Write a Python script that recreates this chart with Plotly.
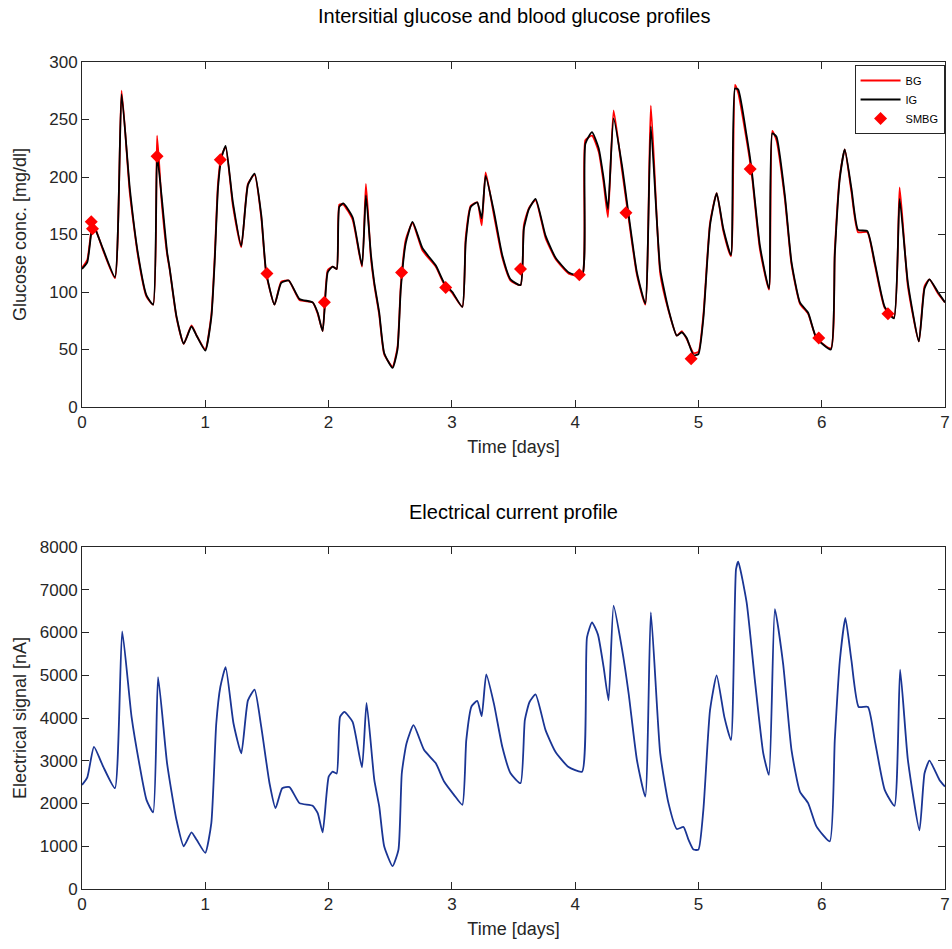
import plotly.graph_objects as go

# ---------------- data ----------------
t_glu = [0, 0.043, 0.086, 0.11, 0.172, 0.267, 0.321, 0.388, 0.456, 0.523, 0.577, 0.609, 0.645, 0.690,
         0.712, 0.766, 0.825, 0.888, 0.93, 1.0, 1.049, 1.076, 1.103, 1.130, 1.165, 1.224, 1.292, 1.346,
         1.400, 1.454, 1.494, 1.561, 1.616, 1.677, 1.764, 1.871, 1.912, 1.952, 1.993, 2.033, 2.066, 2.087,
         2.12, 2.195, 2.271, 2.303, 2.344, 2.371, 2.411, 2.451, 2.519, 2.559, 2.586, 2.627, 2.681, 2.762,
         2.870, 2.937, 3.004, 3.085, 3.112, 3.153, 3.206, 3.242, 3.274, 3.341, 3.409, 3.476, 3.557, 3.584,
         3.625, 3.679, 3.760, 3.840, 3.948, 4.056, 4.083, 4.137, 4.191, 4.231, 4.266, 4.312, 4.380, 4.434,
         4.501, 4.569, 4.614, 4.690, 4.757, 4.825, 4.865, 4.905, 4.960, 5.000, 5.040, 5.094, 5.148, 5.202,
         5.264, 5.297, 5.323, 5.391, 5.431, 5.499, 5.572, 5.599, 5.633, 5.701, 5.755, 5.823, 5.890, 5.957,
         6.074, 6.106, 6.147, 6.187, 6.241, 6.295, 6.370, 6.430, 6.511, 6.586, 6.632, 6.699, 6.788, 6.834,
         6.874, 6.942, 7.0]

ig = [120, 126, 157, 154, 137, 113, 272, 190, 132, 97, 89, 219, 184, 135,
      120, 79, 55, 70, 62, 49, 78, 126, 190, 216, 227, 178, 140, 193,
      203, 167, 117, 89, 108, 110, 94, 91, 82, 66, 117, 122, 120, 174,
      177, 165, 123, 184, 132, 108, 82, 47, 34, 50, 103, 143, 161, 138,
      123, 108, 100, 87, 143, 174, 178, 164, 201, 170, 132, 111, 106, 155,
      172, 181, 149, 130, 117, 114, 229, 239, 225, 199, 172, 251, 210, 167,
      117, 90, 244, 120, 85, 62, 65, 60, 45, 46, 77, 158, 186, 155,
      132, 277, 276, 236, 207, 140, 103, 238, 235, 184, 126, 91, 82, 60,
      50, 132, 199, 224, 190, 154, 153, 126, 87, 77, 181, 108, 57, 103,
      111, 100, 91]

bg = [121, 128, 160, 155, 136, 112, 275, 186, 130, 96, 89, 236, 180, 133,
      119, 78, 55, 71, 62, 50, 80, 130, 194, 218, 226, 175, 139, 194,
      202, 165, 116, 89, 109, 110, 93, 91, 81, 66, 119, 122, 120, 176,
      176, 163, 122, 194, 129, 106, 80, 46, 35, 52, 106, 146, 160, 136,
      122, 107, 99, 87, 147, 175, 178, 158, 204, 167, 130, 110, 106, 158,
      173, 180, 147, 129, 116, 114, 232, 236, 222, 195, 165, 258, 206, 164,
      115, 89, 262, 116, 84, 62, 66, 59, 47, 48, 80, 160, 186, 153,
      131, 280, 273, 232, 204, 137, 102, 240, 232, 181, 124, 90, 81, 60,
      51, 136, 201, 224, 187, 152, 152, 124, 86, 78, 191, 105, 57, 105,
      111, 99, 91]

t_smbg = [0.075, 0.085, 0.609, 1.122, 1.500, 1.966, 2.592, 2.950, 3.557, 4.034, 4.412,
          4.941, 5.420, 5.976, 6.537]
smbg = [161, 155, 218, 215, 116, 91, 117, 104, 120, 115, 169,
        42, 207, 60, 81]

t_el = [0, 0.043, 0.097, 0.172, 0.267, 0.326, 0.402, 0.469, 0.523, 0.577, 0.617, 0.690, 0.766,
        0.825, 0.888, 0.93, 1.0, 1.049, 1.089, 1.122, 1.165, 1.229, 1.292, 1.346, 1.400, 1.454,
        1.521, 1.570, 1.624, 1.683, 1.764, 1.871, 1.912, 1.952, 2.001, 2.033, 2.066, 2.093, 2.128,
        2.195, 2.271, 2.308, 2.371, 2.411, 2.451, 2.519, 2.567, 2.594, 2.632, 2.689, 2.775, 2.870,
        2.937, 3.017, 3.085, 3.117, 3.16, 3.206, 3.242, 3.279, 3.341, 3.409, 3.476, 3.557, 3.592,
        3.630, 3.679, 3.760, 3.840, 3.943, 4.056, 4.096, 4.137, 4.185, 4.231, 4.271, 4.312, 4.380,
        4.434, 4.501, 4.569, 4.614, 4.690, 4.757, 4.825, 4.879, 4.919, 4.960, 5.0, 5.040, 5.094,
        5.148, 5.21, 5.264, 5.305, 5.323, 5.391, 5.458, 5.526, 5.572, 5.620, 5.687, 5.755, 5.823,
        5.890, 5.957, 6.065, 6.106, 6.147, 6.192, 6.241, 6.30, 6.375, 6.43, 6.511, 6.59, 6.636,
        6.699, 6.793, 6.834, 6.874, 6.955, 7.0]
el = [2435, 2614, 3327, 2862, 2358, 6028, 4026, 2862, 2086, 1791, 4957, 2940, 1620,
      1000, 1325, 1150, 845, 1543, 3872, 4725, 5190, 3872, 3173, 4414, 4663, 3793,
      2475, 1893, 2358, 2382, 2009, 1946, 1776, 1325, 2629, 2745, 2700, 4026, 4142,
      3910, 2847, 4352, 2552, 1930, 1000, 534, 922, 2708, 3406, 3832, 3250, 2940,
      2513, 2203, 1970, 3483, 4275, 4399, 4042, 5020, 4337, 3327, 2708, 2475, 3949,
      4375, 4554, 3716, 3211, 2862, 2745, 5888, 6238, 5951, 5190, 4414, 6626, 5618,
      4570, 3018, 2163, 6470, 3173, 2009, 1404, 1450, 1155, 922, 922, 1853, 4182,
      4997, 4026, 3483, 7481, 7658, 6703, 4880, 3173, 2668, 6549, 5269, 3250, 2280,
      2009, 1465, 1115, 3483, 5346, 6340, 5346, 4259, 4259, 3483, 2319, 1946, 5129,
      3018, 1372, 2708, 3002, 2552, 2396]

x_ticks = [0, 1, 2, 3, 4, 5, 6, 7]

# ---------------- figure ----------------
FONT = "Liberation Sans, Arial, Helvetica, sans-serif"
AX = "#262626"
TICK_SIZE = 17
LABEL_SIZE = 18
TITLE_SIZE = 20

fig = go.Figure()
fig.add_trace(go.Scatter(x=t_glu, y=bg, mode="lines", name="BG",
                         line=dict(color="#ff0000", width=1.8, shape="spline", smoothing=0.5),
                         xaxis="x", yaxis="y"))
fig.add_trace(go.Scatter(x=t_glu, y=ig, mode="lines", name="IG",
                         line=dict(color="#000000", width=1.8, shape="spline", smoothing=0.5),
                         xaxis="x", yaxis="y"))
fig.add_trace(go.Scatter(x=t_smbg, y=smbg, mode="markers", name="SMBG",
                         marker=dict(symbol="diamond", color="#ff0000", size=10, line=dict(width=0)),
                         xaxis="x", yaxis="y"))
fig.add_trace(go.Scatter(x=t_el, y=el, mode="lines", name="Electrical signal", showlegend=False,
                         line=dict(color="#1a3594", width=1.8, shape="spline", smoothing=0.5),
                         xaxis="x2", yaxis="y2"))

axis_common = dict(showline=True, linecolor=AX, linewidth=1, mirror="ticks", ticks="inside",
                   ticklen=7, tickcolor=AX, showgrid=False, zeroline=False,
                   ticklabeloverflow="allow", automargin=False,
                   tickfont=dict(family=FONT, size=TICK_SIZE, color=AX))
label_font = dict(family=FONT, size=LABEL_SIZE, color=AX)

fig.update_layout(
    width=952, height=949,
    margin=dict(l=82, r=7, t=62, b=60),
    paper_bgcolor="white", plot_bgcolor="white",
    font=dict(family=FONT, color=AX),
    xaxis=dict(domain=[0, 1], range=[0, 7], tickvals=x_ticks, anchor="y",
               title=dict(text="Time [days]", font=label_font, standoff=8),
               **axis_common),
    yaxis=dict(domain=[0.5828, 1], range=[0, 300], dtick=50, anchor="x",
               title=dict(text="Glucose conc. [mg/dl]", font=label_font, standoff=17),
               **axis_common),
    xaxis2=dict(domain=[0, 1], range=[0, 7], tickvals=x_ticks, anchor="y2",
                title=dict(text="Time [days]", font=label_font, standoff=8),
                **axis_common),
    yaxis2=dict(domain=[0, 0.4135], range=[0, 8000], dtick=1000, anchor="x2",
                title=dict(text="Electrical signal [nA]", font=label_font, standoff=8),
                **axis_common),
    legend=dict(x=0.9995, y=0.9964, xanchor="right", yanchor="top",
                bgcolor="white", bordercolor=AX, borderwidth=1,
                font=dict(family=FONT, size=11, color="black"),
                itemwidth=40, tracegroupgap=0),
    annotations=[
        dict(text="Intersitial glucose and blood glucose profiles", x=0.5, y=1.0556,
             xref="paper", yref="paper", xanchor="center", yanchor="middle", showarrow=False,
             font=dict(family=FONT, size=TITLE_SIZE, color="black")),
        dict(text="Electrical current profile", x=0.5, y=0.4559,
             xref="paper", yref="paper", xanchor="center", yanchor="middle", showarrow=False,
             font=dict(family=FONT, size=TITLE_SIZE, color="black")),
    ],
)

fig.write_html("out.html")
